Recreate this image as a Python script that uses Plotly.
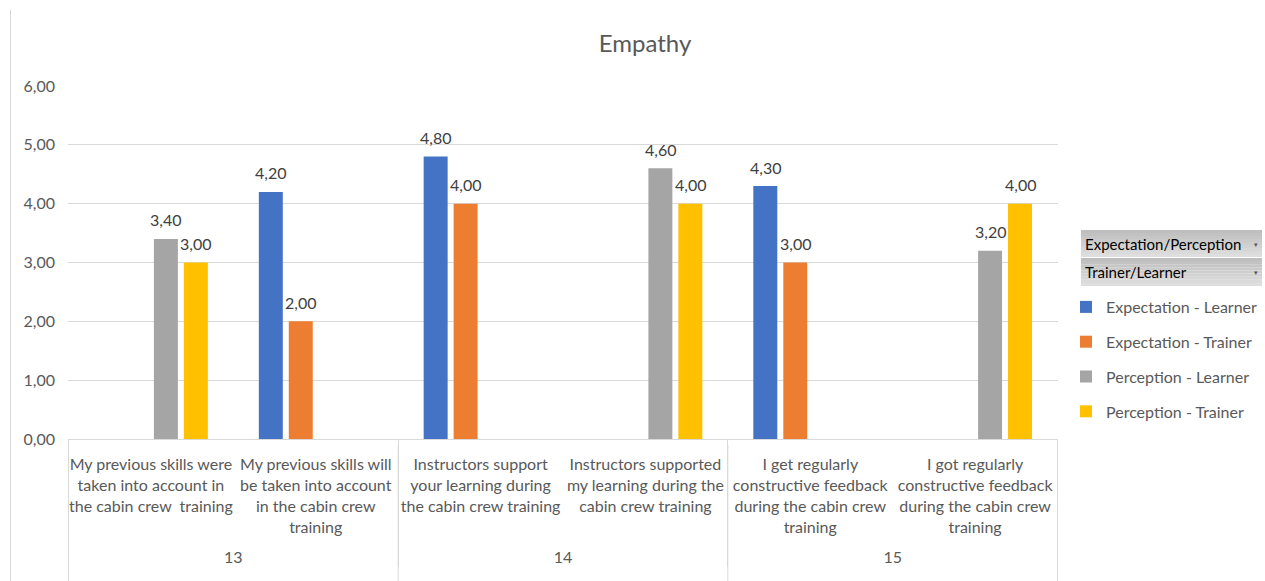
import plotly.graph_objects as go

# Question numbers (outer level) and statements (inner level)
groups = ["13", "13", "14", "14", "15", "15"]
statements = [
    "My previous skills were<br>taken into account in<br>the cabin crew  training",
    "My previous skills will<br>be taken into account<br>in the cabin crew<br>training",
    "Instructors support<br>your learning during<br>the cabin crew training",
    "Instructors supported<br>my learning during the<br>cabin crew training",
    "I get regularly<br>constructive feedback<br>during the cabin crew<br>training",
    "I got regularly<br>constructive feedback<br>during the cabin crew<br>training",
]

# Mean scores per series (None = no answer for that statement)
expectation_learner = [None, 4.20, 4.80, None, 4.30, None]
expectation_trainer = [None, 2.00, 4.00, None, 3.00, None]
perception_learner = [3.40, None, None, 4.60, None, 3.20]
perception_trainer = [3.00, None, None, 4.00, None, 4.00]

series = [
    ("Expectation - Learner", expectation_learner, "#4472C4"),
    ("Expectation - Trainer", expectation_trainer, "#ED7D31"),
    ("Perception - Learner", perception_learner, "#A5A5A5"),
    ("Perception - Trainer", perception_trainer, "#FFC000"),
]

y_ticks = [0, 1, 2, 3, 4, 5, 6]

W, H = 1265, 581
FONT = "Lato"
TXT = "#595959"
GRID = "#d9d9d9"
L, R, T, B = 68, 207, 86, 142
BARGAP, GROUPGAP = 0.273, 0.2


def fmt(v):
    return f"{v:.2f}".replace(".", ",")


# extra blank line below the statements leaves room above the question numbers
tick_text = [s + "<br> " for s in statements]

fig = go.Figure()
for i, (name, vals, color) in enumerate(series):
    fig.add_trace(go.Bar(
        name=name,
        x=[groups, tick_text],
        y=vals,
        marker=dict(color=color, line=dict(width=0)),
        legendgroup=f"g{i}",
        hoverinfo="skip",
    ))

# value labels above each bar, shifted sideways to the bar's slot in the group
cat_px = (W - L - R) / len(statements)
slot_px = cat_px * (1 - BARGAP) / len(series)
annotations = []
for i, (name, vals, color) in enumerate(series):
    dx = (i - (len(series) - 1) / 2) * slot_px
    for j, v in enumerate(vals):
        if v is None:
            continue
        annotations.append(dict(
            x=j, y=v, xref="x", yref="y", text=fmt(v), showarrow=False,
            xanchor="center", yanchor="middle", xshift=dx, yshift=19,
            font=dict(family=FONT, size=16, color="#404040"),
        ))

shapes = []
px = lambda x: (x - L) / (W - L - R)
py = lambda y: 1 - (y - T) / (H - T - B)
# chart outline on the left edge
shapes.append(dict(type="line", xref="paper", yref="paper",
                   x0=px(10.5), x1=px(10.5), y0=py(10), y1=py(H + 5),
                   line=dict(color=GRID, width=1)))

# group dividers run on down to the bottom edge of the chart
ends = [-0.5] + [j + 0.5 for j in range(len(groups) - 1)
                 if groups[j] != groups[j + 1]] + [len(groups) - 0.5]
for xb in ends:
    shapes.append(dict(type="line", xref="x", yref="paper",
                       x0=xb, x1=xb, y0=py(445), y1=py(H + 5),
                       line=dict(color=GRID, width=1)))


# pivot field buttons above the legend
def button(y_top, y_bot):
    n = 9
    for k in range(n):
        a = y_top + (y_bot - y_top) * k / n
        b = y_top + (y_bot - y_top) * (k + 1) / n
        g = int(0xbe + (0xde - 0xbe) * k / (n - 1))
        c = f"rgb({g},{g},{g})"
        shapes.append(dict(type="rect", xref="paper", yref="paper",
                           x0=px(1081), x1=px(1262), y0=py(b), y1=py(a),
                           fillcolor=c, line=dict(width=0), layer="below"))


button(230, 257)
button(258, 286)

for label, yc in (("Expectation/Perception", 243.5), ("Trainer/Learner", 272)):
    annotations.append(dict(
        text=label, xref="paper", yref="paper", x=px(1083), y=py(yc),
        xanchor="left", yanchor="middle", showarrow=False,
        font=dict(family=FONT, size=15, color="#000000")))
    annotations.append(dict(
        text="▾", xref="paper", yref="paper", x=px(1256), y=py(yc),
        xanchor="center", yanchor="middle", showarrow=False,
        font=dict(family=FONT, size=7, color="#555555")))

fig.update_layout(
    width=W, height=H,
    margin=dict(l=L, r=R, t=T, b=B, autoexpand=False),
    paper_bgcolor="white", plot_bgcolor="white",
    separators=", ",
    barmode="group",
    bargap=BARGAP,
    bargroupgap=GROUPGAP,
    font=dict(family=FONT, size=16, color=TXT),
    title=dict(text="Empathy", x=645 / W, xref="container", xanchor="center",
               y=1 - 44 / H, yref="container", yanchor="middle",
               font=dict(family=FONT, size=24, color=TXT)),
    xaxis=dict(
        type="multicategory",
        showline=True, linecolor=GRID, linewidth=1,
        showdividers=True, dividercolor=GRID, dividerwidth=1,
        tickfont=dict(family=FONT, size=16, color=TXT),
        tickangle=0,
        ticks="",
        ticklabelstandoff=11,
        showgrid=False,
    ),
    yaxis=dict(
        range=[0, 6],
        tickvals=y_ticks,
        tickformat=".2f",
        showgrid=True, gridcolor=GRID, gridwidth=1,
        zeroline=False,
        showline=False,
        ticks="",
        ticklabelstandoff=12,
        tickfont=dict(family=FONT, size=16, color=TXT),
    ),
    legend=dict(
        xref="container", yref="container",
        x=1066 / W, y=1 - 290 / H, xanchor="left", yanchor="top",
        font=dict(family=FONT, size=16, color=TXT),
        tracegroupgap=11,
        itemwidth=30,
        bgcolor="rgba(0,0,0,0)",
    ),
    showlegend=True,
    shapes=shapes,
    annotations=annotations,
)

fig.write_html("out.html")
